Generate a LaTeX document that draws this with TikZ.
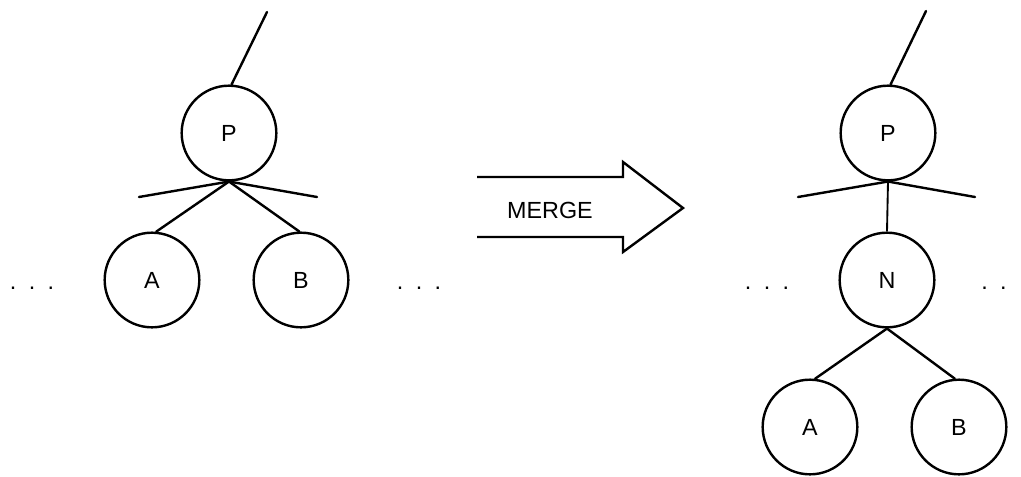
\documentclass[tikz,border=0pt]{standalone}
\usepackage{fontspec}
\setmainfont{Liberation Sans}
\usetikzlibrary{positioning}
\tikzstyle{treenode} = [circle, draw=black, line width=1.8pt, minimum size=71pt, inner sep=0pt, font=\fontsize{17.5}{20}\selectfont]
\tikzstyle{branch} = [line width=1.8pt, line cap=round]
\tikzstyle{etc} = [anchor=base, inner sep=0pt, font=\fontsize{17.5}{20}\selectfont]
\tikzstyle{label} = [font=\fontsize{17.5}{20}\selectfont]

\begin{document}
\begin{tikzpicture}[x=0.75pt, y=-0.75pt]
\useasboundingbox (0,0) rectangle (1021,476);

% tree before merging
\node (p1) [treenode] at (229,133) {P};
\node (a1) [treenode] at (152,280) {A};
\node (b1) [treenode] at (301,280) {B};
\coordinate (up1) at (267,12);
\coordinate (sl1) at (139,197);
\coordinate (sr1) at (317,197);
\node (dl1) [etc] at (32,289) {.\hspace{9.3pt}.\hspace{9.3pt}.};
\node (dr1) [etc] at (419,289) {.\hspace{9.3pt}.\hspace{9.3pt}.};

\draw [branch] (p1.87) -- (up1);
\draw [branch] (p1.south) -- (sl1);
\draw [branch] (p1.south) -- (sr1);
\draw [branch] (p1.south) -- (a1.85);
\draw [branch] (p1.south) -- (b1.92);

% the merge arrow
\draw [line width=1.8pt, line join=miter] (477,177) -- (623,177) -- (623,162) -- (683,208)
  -- (623,252) -- (623,237) -- (477,237);
\node (merge) [label] at (550,210) {MERGE};

% tree after merging
\node (p2) [treenode] at (888,133) {P};
\node (n2) [treenode] at (887,280) {N};
\node (a2) [treenode] at (810,427) {A};
\node (b2) [treenode] at (959,427) {B};
\coordinate (up2) at (926,11);
\coordinate (sl2) at (798,197);
\coordinate (sr2) at (975,197);
\node (dl2) [etc] at (767,289) {.\hspace{9.3pt}.\hspace{9.3pt}.};
\node (dr2) [etc] at (994,289) {.\hspace{9.3pt}.};

\draw [branch] (p2.87) -- (up2);
\draw [branch] (p2.south) -- (sl2);
\draw [branch] (p2.south) -- (sr2);
\draw [line width=1.4pt] (p2.south) -- (n2.north);
\draw [branch] (n2.south) -- (a2.84);
\draw [branch] (n2.south) -- (b2.95);
\end{tikzpicture}
\end{document}
